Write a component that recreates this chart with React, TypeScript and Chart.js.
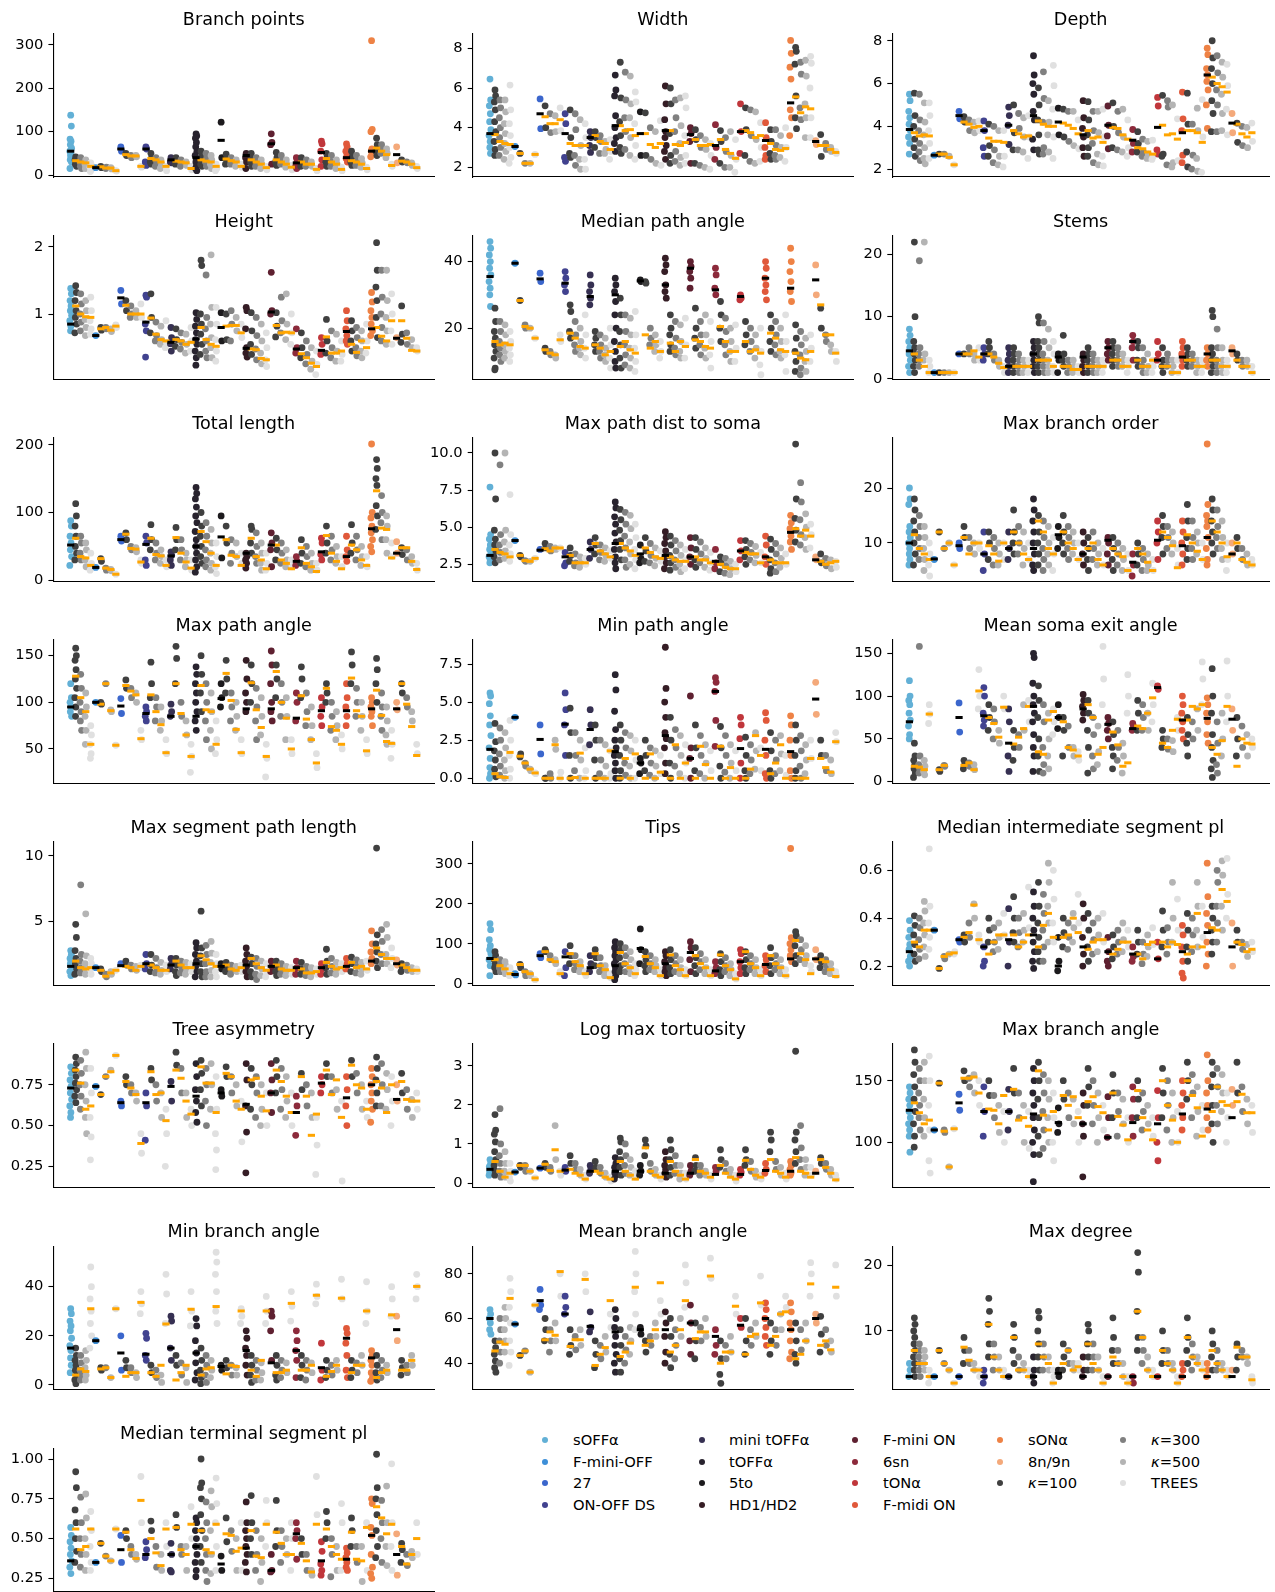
import React, { useEffect, useRef } from "react";
import { Chart, registerables } from "chart.js";
Chart.register(...registerables);

const cellTypes = ["sOFFα","F-mini-OFF","27","ON-OFF DS","mini tOFFα","tOFFα","5to","HD1/HD2","F-mini ON","6sn","tONα","F-midi ON","sONα","8n/9n"];
const typeColors = ["#62b0d6","#3d8fd8","#3b66cc","#41428f","#363052","#28232e","#1c1a1d","#351d25","#5e2030","#8c2a3b","#c0363b","#e0583a","#ee8245","#f4a97a"];
const modelNames = ["κ=100","κ=300","κ=500","TREES"];
const modelColors = ["#404040","#808080","#b4b4b4","#e0e0e0"];

// ---- Branch points
const bpTicks = ["0","100","200","300"];
const bpRange = [-4.6, 326.5];
const bpPts = [
[[138,113,83,78,70,62,55,50,45,40,35,30,15],[42,38,35,30,25,20],[40,35,30,25,20,15],[35,30,25,20,15],[28,22,18,12,8]],
[[17],[20,17],[15,18],[17,14],[10,9]],
[[65,55],[50,45],[45,40],[45,42],[20,18]],
[[65,60,30,22],[50,40,30,25],[40,30,20],[35,25,15],[20,10]],
[[40,35,30,28],[40,32,25],[35,28,20],[30,22],[20,12]],
[[95,90,85,75,65,55,45,38,30,22,15,10],[55,45,38,30,25,20],[50,40,30,20],[45,35,25,15],[25,15,10]],
[[122,40],[48,35,25],[40,30,25],[35,28,20],[25,18]],
[[50,45,40,30,15],[50,40,30,20],[40,30,20],[35,25,15],[20,12]],
[[95,75,70,25],[52,40,30,22],[45,35,25],[35,25,18],[22,12]],
[[40,30,20,15],[40,30,20],[35,25,20],[30,20],[15,10]],
[[78,72,55,35,20],[50,40,30,20],[45,30,20],[35,25,15],[18,10]],
[[72,65,55,45,38,30],[55,42,30,22],[45,32,22],[38,28,18],[18,12]],
[[310,105,100,60,55,48,42],[85,70,55,45],[70,60,50],[60,50,40],[25,20]],
[[65,28],[35,30],[30,28],[28,22],[20,15]]];
const bpMeans = [[55,33,30,28,20],[17,19,16,16,10],[60,47,44,44,20],[60,38,35,30,20],[35,32,30,28,15],[40,35,32,30,20],[80,37,33,30,20],[45,35,30,25,17],[72,35,30,25,18],[28,30,25,25,13],[52,38,30,25,13],[40,33,30,25,15],[55,62,55,47,22],[47,32,30,25,17]];

// ---- Width
const wdTicks = ["2","4","6","8"];
const wdRange = [1.51, 8.75];
const wdPts = [
[[6.45,5.4,5.1,4.7,4.3,3.9,3.6,3.3,3.0,2.7],[5.9,5.6,5.3,4.9,4.3,3.8,3.3,2.9,2.6],[5.4,5.0,4.5,4.0,3.5,3.0,2.6],[5.4,4.8,4.2,3.7,3.2,2.8,2.4],[6.15,4.9,4.2,3.6,3.0,2.5,2.2]],
[[3.05],[2.7],[2.2],[2.2],[2.65]],
[[5.45,3.95],[5.1,4.0],[4.7,3.75],[4.6,3.8],[5.0,3.85]],
[[4.7,4.2,2.5,2.3],[4.9,3.5,2.7,2.5],[4.7,3.9,2.6,2.1],[4.4,3.1,2.4,1.9],[4.2,3.5,2.4,1.9]],
[[3.8,3.5,3.1,2.75],[3.8,3.5,3.0],[3.6,3.3,2.7],[3.3,2.9,2.7],[3.4,2.8,2.4]],
[[6.65,5.9,5.6,4.6,4.0,3.5,3.2,2.8],[7.3,5.5,4.3,3.6,3.0,2.7],[6.8,5.4,4.5,3.8,2.9],[6.6,5.2,4.5,3.5,2.6],[5.8,5.3,4.2,3.1,2.4]],
[[4.8,2.6],[4.75,2.6],[4.0,2.4],[3.8,2.2],[4.35,2.1]],
[[6.1,5.2,4.4,3.8,3.5,3.1,2.8,2.4],[6.0,5.2,3.7,2.6,2.2],[5.4,4.5,3.8,2.8,2.3],[5.5,4.1,3.2,2.5,2.1],[5.6,5.0,3.6,2.6,2.2]],
[[4.0,3.7,3.3,2.2],[3.9,3.4,2.2],[3.6,3.0,2.1],[3.4,2.9,2.0],[3.2,2.6,1.9]],
[[4.15,3.0,2.4],[3.85,3.3,2.2],[3.5,2.8,2.0],[3.8,2.6,2.0],[3.4,2.4,1.75]],
[[5.2,3.8,2.7],[5.0,3.9,2.6],[4.9,3.6,2.3],[4.8,3.4,2.2],[4.25,3.0,2.3]],
[[4.25,3.5,3.0,2.6,2.4],[3.9,3.3,2.7,2.4],[3.9,3.1,2.6,2.4],[3.6,3.0,2.5],[4.0,3.0,2.3]],
[[8.4,7.75,7.05,6.45,4.9,4.5,3.6],[8.05,7.85,7.2,5.6,4.5,3.95],[7.3,6.7,5.0,4.4],[7.4,6.6,5.2,4.5,3.5],[7.6,7.25,6.0,4.5,3.5]],
[[3.35,3.15],[3.65,2.55],[3.2,2.9],[3.0,2.8],[2.8,2.7]]];
const wdMeans = [[3.7,3.65,3.3,3.2,3.15],[3.05,2.7,2.2,2.2,2.65],[4.7,4.55,4.2,4.2,4.4],[3.7,3.2,3.1,3.1,3.1],[3.5,3.6,3.3,3.2,2.9],[4.1,4.1,3.85,3.9,3.6],[3.7,3.7,3.15,3.0,3.2],[3.85,3.85,3.15,3.1,3.25],[3.65,3.4,3.1,3.1,3.15],[3.1,3.4,2.9,2.7,2.45],[3.8,3.85,3.75,3.5,3.6],[3.35,3.2,2.9,2.85,2.95],[5.25,5.55,4.75,5.05,4.95],[3.3,3.1,3.1,2.9,2.75]];

// ---- Depth
const dpTicks = ["2","4","6","8"];
const dpRange = [1.63, 8.34];
const dpPts = [
[[5.5,5.2,4.7,4.4,4.1,3.8,3.5,3.2,2.7],[5.55,4.5,4.0,3.4,3.0,2.6],[5.5,4.3,3.8,3.2,2.8,2.4],[5.1,4.2,3.6,3.0,2.5,2.25],[5.1,4.5,3.8,3.2,2.5]],
[[2.65],[2.7],[2.7],[2.6],[2.2]],
[[4.7,4.35],[4.45,4.2],[4.3,3.8],[4.2,3.7],[4.25,3.8]],
[[4.25,3.8,3.0,2.6],[4.1,3.1,2.6],[4.0,2.9,2.3],[3.8,2.6,2.2],[3.8,2.6,2.1]],
[[4.9,4.5,4.05,3.15],[5.0,3.7,2.9],[4.6,3.9,2.9],[4.4,3.5,2.8],[4.5,3.5,2.5]],
[[7.3,6.4,6.0,5.5,4.7,4.3,3.4,2.9],[5.8,5.0,4.3,3.6,2.9,2.7],[6.55,5.3,4.2,3.0,2.7],[5.2,4.2,3.6,2.8],[6.85,5.9,4.8,3.5,2.5]],
[[4.85,3.6],[4.8,3.5],[4.7,3.3],[4.7,3.1],[4.3,2.95]],
[[5.2,4.4,3.9,3.5,3.0,2.6],[5.15,4.3,3.6,3.0,2.6],[4.7,3.8,3.2,2.3],[4.7,3.7,2.7,2.2],[4.8,3.5,2.6,2.15]],
[[4.95,4.05,3.55,2.95],[5.1,4.0,3.0],[4.7,3.7,2.9],[4.8,3.5,2.8],[4.3,3.0,2.6]],
[[3.85,3.2,2.8],[3.75,3.2,2.8],[3.4,2.8,2.6],[3.3,2.7,2.5],[3.35,2.6,2.45]],
[[5.35,4.95,2.9,2.7],[5.45,2.7,2.6],[5.2,4.9,2.2],[5.0,2.3,2.1],[4.35,2.4]],
[[5.6,4.35,3.8,2.65,2.3],[5.55,4.1,2.8,2.1],[4.1,2.65,2.0],[4.85,3.8,2.5,1.9],[5.25,3.5,1.85]],
[[7.65,7.35,6.7,6.4,6.1,5.7,5.0,3.9],[8.0,7.2,6.7,6.0,5.2,4.6,3.75],[7.3,6.5,5.7,5.0,3.75],[7.0,6.3,5.5,4.6,3.8],[6.9,5.9,4.8,3.6]],
[[4.6,3.7],[4.15,3.25],[4.0,3.1],[3.95,3.0],[4.15,3.3]]];
const dpMeans = [[3.85,3.7,3.55,3.6,3.55],[2.65,2.7,2.7,2.55,2.2],[4.5,4.2,4.1,3.95,4.0],[3.8,3.45,3.3,3.3,3.25],[4.05,3.8,3.65,3.5,3.55],[4.5,4.25,4.1,4.0,4.0],[4.2,4.15,4.05,3.9,3.65],[3.6,3.8,3.45,3.5,3.25],[4.05,3.95,3.9,3.6,3.4],[3.35,3.0,2.95,2.8,2.7],[3.95,4.05,3.6,3.65,3.4],[3.7,3.8,3.8,3.7,3.25],[6.4,6.3,6.0,5.85,5.6],[4.15,4.1,3.65,3.5,3.7]];

// ---- Height
const htTicks = ["1","2"];
const htRange = [0.033, 2.165];
const htPts = [
[[1.38,1.3,1.2,1.12,1.05,0.98,0.9,0.82,0.75],[1.42,1.32,1.2,1.05,0.95,0.85,0.72],[1.3,1.15,1.0,0.88,0.75],[1.2,1.05,0.92,0.8,0.68],[1.25,1.05,0.9,0.78,0.7]],
[[0.68],[0.8,0.76],[0.8,0.78],[0.78,0.74],[0.84,0.8]],
[[1.35,1.15],[1.2,1.05],[1.12,1.0,0.95],[1.05,0.95],[1.15,0.95]],
[[1.28,1.25,0.85,0.75,0.36],[1.3,0.95,0.72],[0.88,0.68,0.6],[0.82,0.62,0.55],[0.9,0.58,0.5]],
[[0.8,0.65,0.56,0.45],[0.78,0.62,0.52],[0.72,0.58,0.48],[0.7,0.55,0.42],[0.8,0.6,0.45]],
[[1.02,0.92,0.82,0.72,0.62,0.55,0.45,0.35,0.24],[1.8,1.72,1.0,0.85,0.7,0.55,0.4],[1.58,0.95,0.78,0.6,0.45,0.35],[1.88,1.1,0.85,0.65,0.5,0.35],[1.1,0.85,0.62,0.45,0.3]],
[[1.02,0.6],[1.0,0.62],[1.05,0.85,0.6],[0.95,0.75],[0.85,0.65]],
[[1.1,1.05,0.78,0.5,0.42,0.36],[1.02,0.75,0.55,0.4],[0.95,0.68,0.48,0.32],[0.85,0.6,0.42,0.26],[0.72,0.5,0.32,0.22]],
[[1.62,1.05,1.0],[1.02,0.82,0.66],[1.25,0.9,0.72],[1.3,0.85,0.62],[1.0,0.72,0.55]],
[[0.78,0.5,0.42],[0.72,0.5,0.35],[0.6,0.4,0.26],[0.5,0.3,0.18],[0.45,0.25,0.1]],
[[0.65,0.55,0.4],[0.92,0.6,0.42],[0.75,0.5,0.35],[0.7,0.45,0.3],[0.6,0.4,0.3]],
[[1.05,0.9,0.78,0.68,0.6,0.55],[0.9,0.75,0.6,0.45],[0.8,0.65,0.5,0.38],[0.75,0.6,0.45,0.35],[0.85,0.6,0.42]],
[[1.32,1.18,1.05,0.95,0.85,0.75,0.68],[2.06,1.65,1.4,1.2,0.95,0.65],[1.65,1.25,1.0,0.8,0.6],[1.65,1.2,0.95,0.75,0.55],[1.3,1.0,0.75,0.55]],
[[0.65],[1.12,0.7,0.58],[0.72,0.55],[0.62,0.5],[0.5,0.45]]];
const htMeans = [[0.85,1.12,1.0,0.96,0.95],[0.68,0.78,0.8,0.76,0.82],[1.24,1.13,1.0,1.0,1.0],[0.88,0.94,0.7,0.62,0.6],[0.58,0.62,0.6,0.55,0.58],[0.63,0.8,0.62,0.55,0.52],[0.8,0.82,0.83,0.83,0.72],[0.49,0.48,0.47,0.34,0.32],[1.03,0.83,0.72,0.73,0.72],[0.48,0.41,0.35,0.27,0.22],[0.46,0.66,0.42,0.42,0.45],[0.74,0.55,0.43,0.6,0.5],[0.78,0.8,0.67,0.6,0.9],[0.64,0.9,0.64,0.46,0.45]];

// ---- Median path angle
const mpaTicks = ["20","40"];
const mpaRange = [4.7, 47.8];
const mpaPts = [
[[46,44,42,40,38,36,34,32,30,26.5],[26,22,19,17,15,13,11,8,7.5],[22,19,16,14,12,10],[21,18,15,13,11],[19,16,14,12,10]],
[[39.5],[28.3],[21,20],[20],[17]],
[[36.5,34],[14,13],[13,12],[12,11],[18,16]],
[[37,35,33,31],[27,25,19,17],[22,18,15,13],[20,16,14,12],[24,18,14,11]],
[[36,33,31,29,27],[19,17,15,13],[18,15,13,11],[17,14,12,10],[20,15,11,8]],
[[35,33,31,28,24,20,16,13,10,8],[29,24,19,15,11,8],[24,19,15,12,9],[23,18,14,11,8],[25,18,14,10,7]],
[[34.5,34],[34,33.5],[20,17,15],[18,15,13],[16,13,11]],
[[41,39,37,33,31,29],[24,20,18,15,13],[22,17,14,12],[21,16,13,11],[23,15,11]],
[[40,38.5,37,35,32],[26,20,17,14],[22,18,15,12],[24,18,14,11],[22,16,12,8]],
[[38,36,32,30],[28,24,20,16],[23,19,15,12],[20,16,13,10],[21,14,10]],
[[30,29,28.5],[22,18,15],[20,16,13],[18,14,11],[20,13,9,6]],
[[40,38,35,33,31,28.5],[24,20,16,13],[22,18,15,12],[20,16,13,11],[24,16,12,7]],
[[44,40,37,34,31,28],[21,17,13,10,7],[19,15,12,8,6],[17,13,10,7],[18,14,10]],
[[39,30],[26,20],[18,16],[15,13],[13,10]]];
const mpaMeans = [[35.5,16,15,15.5,15],[39.5,28.3,20.5,20,17],[34.8,13.5,12.5,12,16.5],[33.5,18.5,17,14.5,14],[29.5,15,14,12,13],[30,14.5,16,13.5,12.5],[34.2,18,14,16,13],[33,15.5,13,16,14.5],[38,16.5,16,14.5,14],[31.5,20.5,16,13,13],[29.5,16,13,13.5,12.5],[35,18.5,17,13.5,13],[32,12.5,11,10.5,13],[34.5,27,18,18,12.5]];

// ---- Stems
const stTicks = ["0","10","20"];
const stRange = [-0.05, 23.05];
const stPts = [
[[8,7,6,5,4,3,2,1],[22,10,6,5,4,3,2,1],[19,5,4,3,2],[22,4,3],[3,2,1]],
[[1],[1],[1],[1],[1]],
[[4],[4],[5,4],[4,3],[5,3]],
[[5,4,3],[6,5,4],[4,3],[3,2],[2,1]],
[[5,4,3,2,1],[5,4,3,2,1],[4,3,2,1],[3,2,1],[3,2,1]],
[[6,5,4,3,2,1],[10,9,6,5,4,3,2,1],[9,6,4,3,2,1],[8,5,3,2,1],[6,4,2,1]],
[[4,3,1],[7,4,3,2],[3,2,1],[3,2,1],[2,1]],
[[4,3,2,1],[5,4,3,2,1],[4,3,2,1],[3,2,1],[3,2,1]],
[[6,5,4,3],[6,5,4,3,2],[5,4,3,2],[4,3,2],[3,2,1]],
[[7,6,5,3],[6,5,3,2],[5,3,2,1],[4,2,1],[3,2,1]],
[[6,4,3],[5,3,2,1],[4,3,2],[3,2,1],[3,1]],
[[6,5,4,3,2],[5,4,3,2],[4,3,2],[3,2,1],[3,2,1]],
[[5,4,3,2],[11,10,5,4,3,2,1],[8,5,3,2,1],[5,3,2,1],[3,2,1]],
[[5,4],[4,3],[3,2],[3,2],[2,1]]];
const stMeans = [[4.5,4,3,2,1],[1,1,1,1,1],[4,4,4,4.5,3.5],[4,4,3.5,2.5,1.8],[2,2,2,2,2],[4,3,3,3,2],[3.5,2,2,1.5,1.5],[3.5,2,2,2,2],[5,3,3,2,2],[6,3,2,2,3],[3,2,2,1,1],[3.5,3,3,2,2],[4,3,3,2,2],[4.5,3,2,2,1]];

// ---- Total length
const tlTicks = ["0","100","200"];
const tlRange = [-1.3, 210.3];
const tlPts = [
[[88,80,65,55,45,35,22],[113,95,80,65,50,40,30],[65,55,40,30],[55,45,30,20],[40,25,15]],
[[19],[32,28],[18,15],[16,14],[9]],
[[65,58],[70,60],[50,45],[48,42],[30,25]],
[[65,55,30,22],[82,60,45],[55,40,30],[45,35,25],[30,20]],
[[42,37,30,22],[78,60,45],[60,45,30],[40,30,20],[30,15]],
[[137,128,120,108,95,85,72,60,50,40,30,20,12],[100,80,65,50,35,25],[85,65,45,30,20],[75,55,40,25,15],[55,35,20,10]],
[[95,33],[80,55],[60,40,25],[55,35],[40,25]],
[[40,35,30,25,18],[80,75,55,40],[70,50,35,25],[55,40,25,15],[40,25,15]],
[[70,55,45,20],[62,45,30],[55,40,25],[45,30,20],[30,20]],
[[35,28,22],[60,40,25],[50,35,20],[40,25,15],[25,15]],
[[62,55,38,30],[80,55,40],[65,45,30],[50,35,25],[35,20]],
[[65,45,35,28],[82,55,40],[65,45,30],[50,35,22],[35,20]],
[[201,100,92,80,70,60,50,42],[178,165,150,140,110,95,75],[125,100,85,60],[95,80,60,40],[55,35]],
[[57,40],[48,38],[45,30],[35,25],[25,15]]];
const tlMeans = [[52,62,35,33,22],[19,32,18,16,9],[60,68,47,46,27],[53,62,38,36,22],[36,63,40,27,18],[50,72,57,40,22],[64,60,37,35,22],[40,62,35,30,17],[52,52,30,25,17],[28,48,25,20,13],[42,66,40,28,17],[35,52,45,30,22],[76,132,77,75,33],[40,48,48,28,16]];

// ---- Max path dist to soma
const mpdTicks = ["2.5","5.0","7.5","10.0"];
const mpdRange = [1.36, 11.03];
const mpdPts = [
[[7.7,4.5,4.2,3.8,3.5,3.2,3.0,2.8,2.6],[10.0,6.9,4.8,4.2,3.8,3.4,3.0,2.6],[9.2,4.5,3.8,3.3,2.8],[10.0,4.8,4.0,3.4,2.9],[7.2,4.5,3.8,3.2,2.7]],
[[4.1],[3.1,3.0],[2.75,2.7],[2.7],[2.9]],
[[3.5],[3.9,3.6],[3.7,3.4],[3.6,3.5],[3.6]],
[[3.3,2.6,2.4],[3.6,3.1,2.7],[3.2,2.6,2.4],[3.0,2.6,2.3],[2.9,2.5]],
[[4.0,3.5,2.9],[4.3,3.8,3.2],[3.8,3.3,2.8],[3.6,3.1,2.7],[3.4,2.9]],
[[6.7,6.3,5.7,5.2,4.6,4.0,3.5,3.0,2.6,2.2],[6.2,5.5,4.8,4.1,3.5,2.8],[6.0,5.2,4.4,3.6,2.8,2.3],[5.8,4.9,4.0,3.2,2.5],[5.2,4.3,3.5,2.8,2.2]],
[[3.8,2.9,2.6],[4.3,3.4,2.7],[3.9,3.1,2.6],[3.6,2.9,2.4],[3.4,2.7]],
[[4.7,4.3,3.9,3.4,3.0,2.6,2.2],[4.4,3.8,3.1,2.6,2.1],[4.1,3.4,2.8,2.3],[3.8,3.1,2.5,2.0],[3.5,2.8,2.2]],
[[4.3,3.6,3.0,2.5],[4.3,3.5,2.8,2.3],[4.0,3.2,2.6],[3.6,2.9,2.3],[3.3,2.6,2.1]],
[[3.5,2.6,2.2],[3.0,2.6,2.0],[2.9,2.4,1.9],[2.7,2.2,1.8],[2.5,2.0]],
[[4.1,3.4,2.8],[4.1,3.5,3.0,2.5],[3.9,3.3,2.8],[3.7,3.1,2.6],[3.3,2.6]],
[[4.4,3.8,3.0,2.5],[4.2,3.5,2.8,2.2,1.9],[3.9,3.2,2.6,2.0],[3.6,2.9,2.3],[3.2,2.5]],
[[5.8,5.3,4.9,4.4,4.0,3.5],[10.6,6.9,5.6,4.8,4.0],[8.0,6.7,5.5,4.5,3.8],[5.9,5.0,4.3,3.5],[5.2,4.5,3.6]],
[[3.0,2.8],[3.2,2.6],[2.9,2.4],[2.8,2.2],[2.7,2.3]]];
const mpdMeans = [[3.1,3.5,3.3,3.2,3.0],[4.1,3.1,2.75,2.7,2.9],[3.45,3.55,3.4,3.6,3.6],[3.0,3.1,2.6,2.6,2.6],[3.5,3.9,3.4,3.2,3.0],[3.9,3.9,3.6,3.4,3.1],[3.2,3.6,3.3,3.0,2.9],[3.1,3.0,2.8,2.7,2.7],[3.0,3.0,2.8,2.8,2.6],[2.7,2.5,2.3,2.2,2.2],[3.4,3.3,3.2,3.2,2.6],[3.0,2.8,2.6,2.6,2.6],[4.65,4.9,4.4,4.8,4.4],[2.8,2.7,2.5,2.6,2.7]];

// ---- Max branch order
const mboTicks = ["10","20"];
const mboRange = [3.05, 29.15];
const mboPts = [
[[20,18,17,13,12,11,10,9,8,7,6],[18,16,14,12,10,8,6],[15,13,11,9,7],[13,11,9,7,5],[10,8,6,4]],
[[7],[12],[9],[10],[6]],
[[10,9],[13,11],[11,9],[10,8],[10,9]],
[[12,8,5],[12,10,7],[11,9,6],[10,8,6],[10,7]],
[[12,9,7],[16,12,10,8],[13,10,8],[12,9,6],[10,7]],
[[18,16,14,12,10,8,6,5],[15,12,10,8,6],[14,11,9,7,5],[13,10,8,6],[11,8,5]],
[[13,11,9],[15,12,10,8],[13,11,9,7],[12,10,8],[10,7]],
[[12,10,8,6],[11,9,7,5],[12,9,7],[10,8,6],[9,6]],
[[11,10,8,6],[11,9,7,5],[10,8,6],[9,7,5],[8,5]],
[[8,6,4],[10,8,6],[9,7,5],[8,6,5],[7,5]],
[[14,12,10,7],[15,13,11,8],[13,11,9],[12,10,8],[9,6]],
[[14,12,10,8,6],[17,14,11,9,7],[14,11,9,7],[12,10,8],[10,7]],
[[28,17,15,14,13,11,9,7,6],[18,16,14,12,10,8],[16,13,11,9],[14,11,9,7],[10,7,5]],
[[10,8],[11,9],[9,7],[8,6],[7,6]]];
const mboMeans = [[10,11.5,9,8,7],[7.1,12,9,10,6],[9.5,11,8,10,10],[8,9.5,8,6.7,10],[9,12,10,8,7],[9,14,12,9,8],[11.5,12,10,9,7],[8,9,10,7,6],[10.5,9,8,7.5,5],[6.5,9,8,6.5,5],[10.5,12,11,9.5,5.5],[9.5,11.5,10,8.5,7],[11,14,12,10,7.5],[8,10,7,6.5,6]];

// ---- Max path angle
const mxpaTicks = ["50","100","150"];
const mxpaRange = [13.2, 167];
const mxpaPts = [
[[120,105,100,95,90,85],[158,150,145,135,125,115,105,95,85],[130,115,100,90,80,70],[110,95,85,70,55],[75,65,55,45,40]],
[[100],[100,98],[120],[92,90],[54]],
[[104,88],[124,115],[115,105],[110,100],[70,60]],
[[95,90,85,80],[143,120,105],[105,95,80],[95,80,70],[60,45]],
[[98,90,85],[160,147,120],[100,85],[80,65],[55,42,25]],
[[138,130,120,110,100,90,80,70],[150,130,110,90],[120,100,80,60],[110,90,70,50],[80,60,45]],
[[120,105,95],[145,125,110],[110,95,80],[100,85,70],[60,45]],
[[145,125,110,100,90],[140,120,100],[115,95,80,60],[105,85,65],[55,40,20]],
[[155,140,120,100,90,80],[140,125,105],[120,100,85],[105,85,60],[60,45]],
[[110,100,80],[138,125,105],[110,90,75],[95,75,60],[45,30]],
[[105,95,85,75],[120,110,100],[100,85,70],[90,75,60],[65,50]],
[[120,105,95,85,75],[154,140,120],[115,100,85],[100,85,70],[60,45]],
[[105,100,95,90,85,75],[147,135,120,100],[110,95,85,70],[95,80,65,55],[70,55,40]],
[[100,92],[120,110],[105,95],[90,80],[55,45]]];
const mxpaMeans = [[95,128,105,90,55],[100,98,120,91,54],[96,118,112,108,61],[88,108,90,76,46],[85,120,88,65,42],[85,118,92,90,55],[104,131,102,71,46],[93,121,92,73,42],[93,133,100,83,50],[83,107,82,60,35],[91,115,74,70,55],[91,126,91,85,48],[93,113,86,58,56],[93,120,98,74,43]];

// ---- Min path angle
const mnpaTicks = ["0.0","2.5","5.0","7.5"];
const mnpaRange = [-0.33, 9.09];
const mnpaPts = [
[[5.6,5.4,4.9,4.1,3.5,2.8,2.0,1.3,0.7,0.3,0.0],[3.6,2.4,1.8,1.2,0.6,0.1],[3.3,2.5,1.6,0.8,0.2],[3.0,2.0,1.2,0.5,0.0],[3.8,2.5,1.5,0.6,0.0]],
[[4.0],[1.4,1.6],[1.0,0.8],[0.6,0.5],[0.35,0.3]],
[[3.5,1.6],[0.0,0.0],[0.3,0.0],[2.5,1.9],[0.0,0.4]],
[[5.6,4.5,3.5,1.5],[4.6,3.0,1.5,0.0],[3.0,1.5,0.5],[2.5,1.2,0.0],[2.0,0.5,0.0]],
[[4.5,3.5,2.2],[3.5,2.5,1.2,0.0],[2.5,1.2,0.3],[2.2,0.8,0.0],[1.8,0.3,0.0]],
[[6.8,5.8,4.4,3.2,2.5,2.0,1.5,1.0,0.5,0.0],[3.5,2.5,1.5,0.5,0.0],[3.0,2.0,1.0,0.2],[2.8,1.8,0.8,0.0],[2.5,1.2,0.0]],
[[1.3,1.0,0.3],[2.5,1.5,0.5],[2.0,1.0,0.2],[1.8,0.8,0.0],[1.5,0.3]],
[[8.6,5.9,5.0,4.0,3.0,2.6,2.0,1.0,0.3],[4.0,2.5,1.0,0.0],[3.2,2.0,0.8],[2.8,1.5,0.3],[2.2,1.0,0.0]],
[[5.4,2.0,1.3,0.0],[3.5,2.0,0.5],[2.8,1.5,0.3],[2.2,1.0,0.0],[1.8,0.5]],
[[6.6,6.3,5.7,3.8,2.1],[3.4,2.0,0.8,0.0],[2.8,1.5,0.4],[2.2,1.0,0.0],[1.8,0.5]],
[[4.0,3.5,2.6,1.0,0.0],[2.7,1.5,0.5,0.0],[2.2,1.2,0.3],[3.0,1.8,0.6],[2.0,0.5]],
[[4.3,3.8,2.5,1.5,0.3,0.0],[3.0,1.8,0.5,0.0],[2.5,1.2,0.3],[2.8,1.6,0.5],[1.5,0.2]],
[[4.1,3.5,2.5,1.5,0.5,0.0],[3.5,2.5,1.5,0.5,0.0],[2.8,1.8,0.8,0.0],[2.2,1.2,0.3],[2.5,1.3]],
[[6.3,4.2],[2.5,1.5],[1.5,0.5],[1.2,0.3],[3.0,2.4]]];
const mnpaMeans = [[1.9,0.3,0.1,0.05,1.7],[4.0,1.45,1.0,0.6,0.35],[2.55,0.0,0.0,2.2,0.0],[3.55,0.0,0.05,1.65,0.0],[3.2,0.0,0.0,0.0,1.8],[1.75,0.0,1.3,0.0,1.6],[1.0,0.0,1.6,0.0,0.4],[2.8,0.0,2.2,0.0,1.0],[1.3,0.0,2.1,0.9,0.0],[5.7,2.1,0.0,0.7,0.0],[1.95,0.0,0.6,2.8,1.5],[1.9,0.3,1.0,2.2,0.0],[1.75,0.0,0.0,0.0,1.3],[5.2,1.3,0.7,0.4,2.4]];

// ---- Mean soma exit angle
const mseTicks = ["0","50","100","150"];
const mseRange = [-1.9, 165.8];
const msePts = [
[[118,100,95,90,80,72,65,55,50],[45,30,25,20,15,10,5],[158,30,20,15,10],[25,18,12,8],[90,79,68]],
[[],[14,12],[19,18],[],[]],
[[92,58],[25,20,15],[22,18],[20,14],[131,100,85]],
[[110,100,80,72,65],[90,75,60],[85,70,50],[60,45],[100,85]],
[[85,70,30,12],[60,40,25],[55,40],[90,60],[95,70]],
[[150,145,115,100,90,80,70,55,40,30,12],[112,95,75,50,30,12],[90,70,40,20,10],[80,50,30,15],[85,70,55]],
[[90,75,62],[75,60,30],[65,40],[40,30],[35,25]],
[[102,95,88,80,72],[95,80,60,40,10],[75,55,30,15],[65,35,20],[158,120,90]],
[[75,68,60,50],[70,55,40,30,15],[60,40,25],[45,30,10],[125,100,80]],
[[68,65,60],[95,80,60],[90,75,60],[80,60],[115,90,70]],
[[112,108],[60,50,40],[50,38],[48,35],[75,60]],
[[100,90,80,70,60,50],[75,55,45,30],[70,50],[85,60],[140,120,90]],
[[98,90,80,70,55,45],[132,100,80,55,40,25,15,5],[70,45,20,10],[80,50,30],[141,100,70]],
[[85,60],[75,50,30],[65,40],[55,30],[50,40]]];
const mseMeans = [[70,18,17,14,79],[null,14,19,null,null],[75,19,22,14,106],[77,75,68,52,87],[45,44,52,62,88],[88,35,32,72,82],[75,70,40,37,30],[85,90,75,32,40],[67,58,43,18,22],[62,65,62,80,98],[110,45,40,60,73],[72,72,88,85,90],[74,40,32,48,88],[73,18,50,45,44]];

// ---- Max segment path length
const mspTicks = ["5","10"];
const mspRange = [0.15, 11.07];
const mspPts = [
[[2.8,2.5,2.2,2.0,1.8,1.5,1.2,0.9],[4.8,3.8,2.8,2.2,1.8,1.4,1.0],[7.8,2.5,2.0,1.5,1.1],[5.6,2.4,1.8,1.4,1.0],[2.2,1.8,1.4,1.0]],
[[1.5],[1.4,1.2],[1.0,0.8],[1.2,1.0],[1.3]],
[[1.8],[2.0,1.7],[1.7,1.4],[1.6,1.3],[1.7,1.5]],
[[2.5,1.8,1.4],[2.5,1.7,1.2],[2.2,1.5,1.1],[1.9,1.3,1.0],[1.7,1.2]],
[[2.2,1.8,1.4],[2.2,1.7,1.2,0.9],[2.0,1.5,1.1],[1.9,1.4,1.0],[1.8,1.2]],
[[3.4,3.0,2.5,2.0,1.6,1.2,0.8],[5.8,3.0,2.4,1.8,1.2,0.8],[3.2,2.5,1.8,1.2,0.8],[3.5,2.6,1.9,1.3,0.8],[2.5,1.8,1.2,0.8]],
[[1.8,1.4],[1.9,1.5,1.2],[1.7,1.3,1.0],[1.6,1.2],[1.7,1.2]],
[[3.0,2.5,2.0,1.6,1.2,0.8],[2.3,1.8,1.2,0.8],[2.2,1.6,1.0,0.6],[2.0,1.4,0.9],[1.8,1.2,0.8]],
[[2.0,1.6,1.2],[2.0,1.6,1.2,0.9],[1.8,1.4,1.0],[1.6,1.2,0.9],[1.5,1.0]],
[[2.0,1.5,1.0],[1.9,1.4,1.0],[1.6,1.2,0.9],[1.5,1.1,0.8],[1.4,1.0]],
[[1.8,1.4,1.0],[2.9,2.0,1.5,1.0],[2.2,1.6,1.1],[1.9,1.4,1.0],[1.8,1.2]],
[[2.2,1.8,1.4],[2.3,1.8,1.2],[2.1,1.6,1.1],[1.9,1.4,1.0],[2.0,1.3]],
[[4.3,3.3,2.7,2.2,1.8],[10.6,4.0,3.3,2.7,2.0,1.5],[4.4,3.5,2.5,1.8],[4.8,3.8,2.5,1.8],[3.0,2.2,1.5]],
[[2.1,1.7],[1.8,1.5,1.2],[1.7,1.3],[1.5,1.2],[1.4,1.2]]];
const mspMeans = [[1.6,2.0,1.5,1.4,1.5],[1.5,1.3,0.85,1.1,1.3],[1.65,1.6,1.5,1.3,1.6],[1.8,1.7,1.5,1.3,1.3],[1.7,2.0,1.7,1.5,1.5],[1.8,2.4,2.1,1.8,1.6],[1.6,1.7,1.4,1.3,1.5],[1.7,2.2,1.8,1.5,1.3],[1.6,1.7,1.4,1.3,1.3],[1.5,1.4,1.1,1.1,1.2],[1.5,1.9,1.6,1.4,1.5],[1.6,1.9,1.5,1.6,1.4],[2.0,3.0,2.5,2.2,2.2],[1.8,1.7,1.5,1.3,1.3]];

// ---- Tips
const tpTicks = ["0","100","200","300"];
const tpRange = [-4.3, 354.5];
const tpPts = [
[[150,135,110,95,85,75,60,45,20],[80,70,60,50,40,30],[60,50,40,30],[55,45,35,25],[40,30,20]],
[[25,22],[48,40],[30,20],[25,20],[10]],
[[75,65],[85,80],[70,60],[60,50],[30,25]],
[[80,40,20],[95,70,50],[70,50,35],[55,40,30],[30,20]],
[[70,50,30],[85,65,45],[65,45,30],[45,30,20],[25,15]],
[[105,100,90,80,70,60,50,40,30,20,10],[100,85,65,45,30],[90,70,50,30],[80,60,40,25],[50,35,20]],
[[137,85,50],[80,60,45,30],[70,50,35],[60,45,30],[35,20]],
[[80,70,55,40,30,20],[85,60,40,25],[70,50,30],[60,40,25],[35,20]],
[[105,90,60,30],[90,65,45,25],[75,55,35],[60,40,25],[35,20]],
[[55,40,25],[75,55,35,20],[65,45,30],[50,35,20],[25,12]],
[[85,75,55,40,25],[80,60,40,25],[70,50,35],[60,40,25],[35,20]],
[[70,60,45,30],[90,65,45,25],[70,50,35],[60,40,25],[35,20]],
[[338,115,100,85,70,55],[130,120,95,70,50],[110,85,60],[95,70,50],[45,30]],
[[85,60],[70,55,40],[60,45,30],[50,35,25],[30,20]]];
const tpMeans = [[63,60,45,37,25],[23,48,30,25,10],[70,80,60,55,25],[67,75,55,45,25],[40,75,45,35,15],[45,78,50,40,25],[88,68,50,40,20],[50,72,45,35,20],[78,70,50,40,20],[32,72,45,35,12],[55,80,50,40,20],[48,70,50,40,20],[62,108,75,60,25],[62,60,55,35,18]];

// ---- Median intermediate segment pl
const misTicks = ["0.2","0.4","0.6"];
const misRange = [0.119, 0.719];
const misPts = [
[[0.39,0.35,0.32,0.29,0.27,0.24,0.22,0.2],[0.41,0.37,0.33,0.29,0.25,0.22],[0.4,0.36,0.31,0.27,0.23],[0.47,0.43,0.38,0.33,0.28,0.24],[0.69,0.45,0.38,0.32,0.27]],
[[0.35],[0.19],[0.24,0.23],[0.25],[0.25,0.26]],
[[0.31,0.3],[0.33,0.3],[0.38,0.32],[0.46,0.4],[0.33,0.3]],
[[0.28,0.22,0.2],[0.4,0.35,0.3],[0.36,0.3,0.26],[0.38,0.32,0.27],[0.42,0.33]],
[[0.44,0.3,0.2],[0.49,0.4,0.34,0.3],[0.4,0.34,0.28],[0.42,0.35,0.3],[0.53,0.36]],
[[0.51,0.45,0.4,0.35,0.3,0.26,0.22,0.19],[0.55,0.45,0.38,0.32,0.26,0.22],[0.5,0.42,0.35,0.28,0.22],[0.63,0.55,0.45,0.38,0.3],[0.6,0.48,0.38,0.3]],
[[0.32,0.22,0.18],[0.4,0.34,0.28],[0.38,0.32,0.27],[0.42,0.36,0.3],[0.5,0.38]],
[[0.46,0.4,0.32,0.25,0.2],[0.42,0.35,0.28,0.22],[0.38,0.31,0.25],[0.4,0.33,0.26],[0.42,0.3]],
[[0.32,0.26,0.22,0.2],[0.33,0.28,0.23],[0.35,0.3,0.25],[0.38,0.31,0.26],[0.35,0.28]],
[[0.28,0.24,0.22],[0.35,0.3,0.25],[0.3,0.25,0.21],[0.33,0.28,0.24],[0.36,0.29]],
[[0.3,0.23],[0.43,0.35,0.28],[0.36,0.3,0.25],[0.55,0.4,0.3],[0.48,0.35]],
[[0.37,0.33,0.28,0.22,0.17,0.15],[0.42,0.35,0.28,0.22],[0.4,0.33,0.26],[0.55,0.45,0.35,0.28],[0.45,0.32]],
[[0.63,0.49,0.42,0.37,0.3,0.25,0.2],[0.45,0.4,0.35,0.3,0.25],[0.6,0.55,0.45,0.38,0.3],[0.64,0.58,0.45,0.35],[0.65,0.5,0.4]],
[[0.38,0.2],[0.35,0.3],[0.3,0.27],[0.29,0.24],[0.3,0.26]]];
const misMeans = [[0.26,0.3,0.28,0.35,0.35],[0.35,0.19,0.24,0.25,0.255],[0.31,0.32,0.34,0.455,0.31],[0.28,0.25,0.3,0.33,0.33],[0.31,0.33,0.28,0.3,0.33],[0.33,0.28,0.37,0.42,0.32],[0.2,0.32,0.33,0.4,0.34],[0.28,0.27,0.3,0.31,0.31],[0.26,0.25,0.27,0.3,0.3],[0.25,0.25,0.23,0.29,0.3],[0.23,0.3,0.28,0.3,0.29],[0.26,0.25,0.28,0.42,0.28],[0.34,0.36,0.35,0.52,0.47],[0.28,0.3,0.29,0.26,0.27]];

// ---- Tree asymmetry
const taTicks = ["0.25","0.50","0.75"];
const taRange = [0.12, 1.0];
const taPts = [
[[0.86,0.82,0.78,0.74,0.7,0.66,0.62,0.58,0.55],[0.92,0.88,0.84,0.8,0.76,0.72,0.68,0.64],[0.9,0.82,0.75,0.68,0.6],[0.95,0.85,0.75,0.65,0.55,0.45],[0.85,0.7,0.55,0.43,0.29]],
[[0.74],[0.69],[0.8],[0.84],[0.93]],
[[0.65,0.62],[0.8,0.75],[0.75,0.7],[0.7,0.65],[0.45,0.33]],
[[0.7,0.62,0.41],[0.85,0.78],[0.75,0.65],[0.7,0.55],[0.6,0.45,0.25]],
[[0.77,0.65],[0.95,0.87],[0.85,0.7],[0.7,0.55],[0.6,0.5]],
[[0.88,0.8,0.72,0.65,0.58,0.52],[0.9,0.82,0.72,0.62],[0.85,0.75,0.65,0.5],[0.88,0.75,0.6],[0.8,0.6,0.45,0.35,0.23]],
[[0.72,0.68],[0.86,0.8],[0.8,0.7],[0.75,0.62],[0.65,0.4]],
[[0.88,0.78,0.62,0.46,0.21],[0.85,0.75,0.6],[0.8,0.7,0.55],[0.75,0.6,0.5],[0.7,0.5]],
[[0.88,0.78,0.7,0.58],[0.9,0.8,0.7],[0.85,0.72,0.6],[0.8,0.65,0.55],[0.7,0.5]],
[[0.68,0.62,0.44],[0.82,0.72],[0.75,0.62],[0.7,0.55],[0.55,0.38,0.2]],
[[0.8,0.75,0.7],[0.88,0.8],[0.8,0.7],[0.72,0.6],[0.65,0.16]],
[[0.8,0.72,0.62,0.5],[0.9,0.8],[0.82,0.7],[0.75,0.6],[0.65,0.55]],
[[0.85,0.8,0.75,0.7,0.65,0.6,0.52],[0.92,0.85,0.78,0.7,0.62],[0.88,0.75,0.62],[0.82,0.72,0.6],[0.8,0.65,0.5]],
[[0.75,0.65],[0.82,0.7],[0.72,0.6],[0.66,0.55],[0.7,0.6]]];
const taMeans = [[0.73,0.84,0.76,0.6,0.62],[0.74,0.69,0.8,0.83,0.93],[0.64,0.77,0.73,0.69,0.39],[0.64,0.83,0.69,0.7,0.53],[0.74,0.84,0.79,0.65,0.57],[0.68,0.86,0.76,0.76,0.58],[0.7,0.82,0.8,0.65,0.6],[0.63,0.78,0.79,0.68,0.59],[0.7,0.84,0.77,0.68,0.58],[0.58,0.8,0.68,0.44,0.57],[0.76,0.84,0.69,0.78,0.55],[0.67,0.87,0.75,0.73,0.6],[0.75,0.77,0.73,0.58,0.75],[0.66,0.77,0.66,0.65,0.65]];

// ---- Log max tortuosity
const lmtTicks = ["0","1","2","3"];
const lmtRange = [-0.115, 3.555];
const lmtPts = [
[[0.6,0.5,0.42,0.36,0.3,0.25,0.2],[1.75,1.35,1.25,1.05,0.8,0.6,0.45,0.3,0.2],[1.9,1.0,0.7,0.5,0.3,0.15],[0.8,0.5,0.3,0.15],[0.5,0.3,0.15,0.05]],
[[0.28],[0.45,0.4],[0.45,0.3],[0.3],[0.13]],
[[0.38],[0.5,0.4],[0.4,0.3],[1.47,0.6],[0.3,0.2]],
[[0.4,0.3],[0.7,0.5],[0.5,0.35],[0.35,0.2],[0.2,0.1]],
[[0.45,0.35,0.25],[0.55,0.4],[0.4,0.25],[0.25,0.15],[0.15,0.05]],
[[0.65,0.5,0.4,0.3,0.25,0.2,0.1],[1.15,1.05,0.8,0.6,0.4,0.2],[1.0,0.7,0.45,0.25],[0.6,0.4,0.2],[0.3,0.15]],
[[0.45,0.3,0.2],[1.1,0.95,0.7],[0.5,0.3],[0.35,0.2],[0.2,0.1]],
[[0.8,0.6,0.45,0.35,0.25,0.15],[1.1,0.85,0.6,0.4,0.2],[0.7,0.45,0.25],[0.45,0.25,0.1],[0.25,0.1]],
[[0.45,0.3,0.2],[0.65,0.45,0.3],[0.45,0.3,0.2],[0.3,0.2],[0.2,0.1]],
[[0.4,0.3],[0.85,0.6,0.4],[0.5,0.3],[0.35,0.2],[0.2,0.05]],
[[0.35,0.28,0.2],[0.85,0.6,0.45],[0.55,0.3],[0.3,0.15],[0.2,0.1]],
[[0.5,0.35,0.25],[1.3,1.1,0.8],[0.55,0.35],[0.4,0.2],[0.25,0.1]],
[[0.55,0.45,0.35,0.25,0.2],[3.37,1.3,1.1,0.8,0.5],[1.47,0.9,0.6,0.35],[0.6,0.4,0.2],[0.4,0.2]],
[[0.3],[0.65,0.5],[0.5,0.35],[0.35,0.2],[0.2,0.1]]];
const lmtMeans = [[0.35,0.55,0.3,0.15,0.25],[0.28,0.45,0.45,0.3,0.13],[0.38,0.48,0.32,0.85,0.3],[0.33,0.35,0.25,0.2,0.1],[0.3,0.3,0.25,0.15,0.1],[0.3,0.55,0.3,0.2,0.1],[0.3,0.9,0.3,0.2,0.15],[0.25,0.55,0.3,0.2,0.1],[0.25,0.6,0.3,0.25,0.15],[0.22,0.45,0.25,0.15,0.1],[0.22,0.58,0.35,0.2,0.15],[0.32,0.6,0.3,0.25,0.15],[0.3,0.65,0.3,0.25,0.15],[0.25,0.6,0.4,0.25,0.08]];

// ---- Max branch angle
const mbaTicks = ["100","150"];
const mbaRange = [63.3, 179.8];
const mbaPts = [
[[145,140,135,130,125,120,115,110,105,92],[175,165,155,145,135,125,115,105,96],[160,150,140,130,120,110],[165,150,135,120,105],[170,150,130,110,85,75]],
[[110],[148],[110,108],[80],[111]],
[[139,126],[158,150],[152,145],[155,140],[150,130]],
[[145,125,105],[150,138],[138,120],[130,108],[125,100]],
[[143,125,110],[160,140],[140,120],[130,100],[125,95]],
[[160,150,140,130,120,110,100,90,68],[165,150,135,120,105,90],[155,140,125,110,95],[150,135,120,100],[140,120,100,85]],
[[128,115,108],[150,135],[140,120],[135,115],[125,100]],
[[140,130,115,105,72],[160,145,130],[150,130,115],[140,120,100],[130,110]],
[[137,120,104],[155,140,120],[140,125,105],[135,115],[120,100]],
[[145,135,120,105],[150,135,120],[140,125,110],[130,115],[120,105]],
[[142,120,100,85],[160,140,120],[150,130,110],[140,120,100],[125,100]],
[[150,140,130,120,110],[165,150,135],[155,140,120],[145,125,105],[130,110]],
[[171,150,140,130,120,110],[165,155,145,130,115,100],[160,145,130,115],[155,140,125],[140,120,100]],
[[143,130],[165,140],[145,125],[135,115],[130,108]]];
const mbaMeans = [[126,132,124,115,118],[110,148,109,80,111],[132,152,152,153,140],[125,127,126,115,138],[125,143,118,120,113],[123,158,122,110,125],[116,138,130,137,120],[115,133,137,129,124],[104,140,121,114,102],[116,142,120,110,102],[115,150,130,118,100],[123,150,138,128,105],[127,125,145,133,130],[120,133,139,124,124]];

// ---- Min branch angle
const mnbaTicks = ["0","20","40"];
const mnbaRange = [-1.9, 56.5];
const mnbaPts = [
[[31,29,26,24,22,19,16,14,11,8,5],[15,12,10,8,6,4,2,0.5],[12,9,6,4,2],[14,10,7,4,2],[48,40,35,30,25,20,15]],
[[18],[7,6],[7],[3],[31]],
[[20,6],[10,7],[7,5],[5,3],[38,33,29]],
[[21,19,12,10],[8,5],[6,3],[4,1],[45,37,25]],
[[28,26,15,10],[12,8],[9,4],[7,1],[38,30,24]],
[[27,24,18,13,9,5,2],[15,10,6,3,0.5],[12,8,4,1],[10,6,3],[54,50,45,38,30,25]],
[[8,6],[10,7],[8,4],[7,4],[31,28,25]],
[[22,19,15,12,8,4],[12,8,4,1],[10,6,2],[9,5,2],[36,30,25]],
[[30,28,22,10],[12,8,4,2],[10,6,3],[9,5],[38,32,26]],
[[22,18,14,10,3],[12,8,3],[10,6,2],[9,5],[41,36,33]],
[[17,6,2],[10,6,3],[8,4],[10,6],[43,35]],
[[23,21,17,12,6,3],[10,6,3],[9,5],[12,8],[42,30,25]],
[[14,12,10,8,5,3,1.5],[12,8,5,2],[10,6,3],[8,5],[40,35,28]],
[[28,18],[10,7,4],[8,5],[12,8],[45,40,35]]];
const mnbaMeans = [[15,4,6.5,5.5,31],[18,6.5,7,3,31],[13,3.5,5,5,33.6],[12.5,5,3.5,8,24.8],[15,2,5,8,30.8],[13,4,6.5,7,31.9],[7.5,4.5,8,7.5,30.1],[14,6,3.5,10,30.1],[9,5,5,6,33.2],[14,6,6,8,36.5],[7,3.5,5.5,8,35.3],[19,5,8,8,30.1],[11,3,5,6,28.5],[22.5,6,6,10,40.1]];

// ---- Mean branch angle
const mnbTicks = ["40","60","80"];
const mnbRange = [28.2, 92.4];
const mnbPts = [
[[64,62,60,58,55,53],[50,47,44,41,38,36],[60,55,50,45,40],[65,60,55,50,45],[78,72,65,58,50,45,39]],
[[57.5],[43.5],[45.5],[36],[66]],
[[73,66,64],[60,55,50],[55,50,45],[58,50],[80,70]],
[[70,65,62],[55,48,44],[52,46],[55,48],[80,72]],
[[63,56,54],[50,44,38],[48,42],[52,45],[62,56]],
[[64,60,56,52,48,44,40,36],[55,48,42,36],[52,46,40],[56,50,44],[90,80,72,62,55]],
[[56,53],[50,45],[52,48],[58,52],[68,62]],
[[63,58,52,45,40],[60,52,44,38],[55,48,42],[60,52],[84,76,65]],
[[66,58,50,44],[58,50,42],[56,50],[60,52],[87,78]],
[[55,48,44],[50,42,35,31],[48,42],[52,45],[70,62]],
[[60,56],[60,50,44],[55,48],[58,52],[79,66]],
[[67,64,60,56,52,48],[58,50,44],[55,48],[62,55],[70,65]],
[[67,63,58,55,50,45,42],[58,50,44,40],[55,46],[58,50],[85,80,70]],
[[62,58],[61,53,45],[55,48],[50,45],[84,70]]];
const mnbMeans = [[60,45.5,49.5,48.5,69],[57.5,43.5,45.5,36,66],[68,50.5,54,52.5,81],[62,47.5,50.5,50.5,77.5],[56.5,39,44,47,68],[54,43,45,49,74],[55,48,50,55,76],[55,45,48,55,68],[58,51,54,54,79],[52,40,45,45,65.5],[57,44,52,53,67],[60,48,52,62,63],[55,42,44,50,75.5],[60,48,50,46,74]];

// ---- Max degree
const mxdTicks = ["10","20"];
const mxdRange = [1.0, 23.0];
const mxdPts = [
[[5,4,3],[12,11,10,9,8,7,6,5,4,3],[8,7,6,5,4,3],[7,6,5,4],[4,3,2]],
[[3],[7],[5],[4],[2]],
[[3],[9,7,5],[7,5],[5,4],[4,3]],
[[4,3,2],[15,13,11,8,6],[8,6,4],[6,4],[4,3]],
[[3],[11,9,7,5],[6,4],[5,4],[4,3]],
[[6,4,3,2],[13,12,10,8,6,4],[8,6,4],[6,4],[4,3,2]],
[[4,3],[8,6,4],[7,5],[5,4],[5,4]],
[[6,4,3],[11,10,8,6,4],[8,6,4],[6,4],[3,2]],
[[3],[12,9,7,5],[7,5],[5,3],[3,2]],
[[3,2],[22,19,13,9,7],[9,7,5],[6,4],[4,3]],
[[3],[10,7,5],[7,5],[5,4],[3,2]],
[[5,4,3],[12,9,7,5],[8,6,4],[6,5],[5,4]],
[[5,4,3],[10,8,6,4],[7,5,4],[5,4],[4,3]],
[[4],[8,6,4],[7,6],[6,5],[3,2]]];
const mxdMeans = [[3,7,5,5,3],[3,7,5,4,2],[3,7.5,5.5,4,4],[3,11,6,4,3],[3,9,4,4,3],[3,8,6,5,2],[3.5,5,7,4,4.5],[3,8,5,4,2],[3,6,5,3,2],[3,13,9,4,3],[3,7,5,4,2],[3,9,6,5,4],[3,7,5,4,3],[3,7.5,6,6,2.5]];

// ---- Median terminal segment pl
const mtsTicks = ["0.25","0.50","0.75","1.00"];
const mtsRange = [0.166, 1.068];
const mtsPts = [
[[0.57,0.52,0.48,0.44,0.4,0.36,0.32,0.28],[0.92,0.82,0.68,0.6,0.5,0.42,0.35],[0.76,0.6,0.5,0.4,0.32],[0.78,0.63,0.5,0.4,0.3],[0.67,0.55,0.45,0.35,0.3]],
[[0.35],[0.47],[0.39],[0.36],[0.56]],
[[0.52,0.35],[0.55,0.5],[0.45,0.4],[0.4,0.37],[0.89,0.6]],
[[0.48,0.43,0.38],[0.61,0.55],[0.45,0.32],[0.4,0.3],[0.6,0.45]],
[[0.47,0.4,0.3,0.29],[0.65,0.57],[0.45,0.4],[0.45,0.3],[0.7,0.5]],
[[0.63,0.6,0.55,0.5,0.45,0.4,0.35,0.3,0.26],[1.0,0.85,0.82,0.75,0.65,0.55,0.45,0.35],[0.73,0.6,0.5,0.4,0.3,0.23],[0.8,0.7,0.55,0.4,0.28],[0.88,0.72,0.6,0.45,0.3]],
[[0.39,0.3],[0.63,0.48],[0.55,0.42],[0.5,0.3],[0.6,0.3]],
[[0.73,0.6,0.55,0.5,0.45,0.4,0.35,0.29],[0.77,0.6,0.5,0.4],[0.55,0.4,0.3],[0.5,0.35,0.23],[0.74,0.6,0.45]],
[[0.4,0.3,0.29],[0.74,0.55,0.45],[0.55,0.45,0.35],[0.5,0.4],[0.6,0.5,0.3]],
[[0.6,0.55,0.5,0.37],[0.5,0.4],[0.4,0.3],[0.3,0.27],[0.89,0.65]],
[[0.48,0.42,0.34,0.3,0.27],[0.67,0.6,0.5],[0.5,0.4,0.26],[0.45,0.3],[0.72,0.6,0.3]],
[[0.44,0.41,0.38,0.35,0.32,0.3],[0.63,0.55,0.45],[0.45,0.35],[0.45,0.23],[0.6,0.3]],
[[0.75,0.72,0.57,0.52,0.4,0.32,0.28,0.25],[1.03,0.82,0.75,0.65,0.55,0.45,0.38],[0.74,0.6,0.5,0.35],[0.83,0.6,0.45,0.33],[0.97,0.6,0.45,0.3]],
[[0.53,0.27],[0.47,0.43,0.35],[0.4,0.33],[0.42,0.38],[0.6,0.4]]];
const mtsMeans = [[0.36,0.56,0.43,0.45,0.56],[0.35,0.47,0.39,0.36,0.56],[0.43,0.54,0.43,0.375,0.74],[0.4,0.5,0.41,0.33,0.56],[0.4,0.57,0.43,0.4,0.59],[0.45,0.55,0.43,0.41,0.59],[0.34,0.53,0.52,0.42,0.44],[0.44,0.55,0.39,0.38,0.59],[0.3,0.54,0.47,0.4,0.4],[0.53,0.47,0.36,0.29,0.59],[0.36,0.56,0.45,0.4,0.37],[0.37,0.54,0.37,0.36,0.57],[0.52,0.7,0.63,0.53,0.59],[0.4,0.45,0.34,0.4,0.5]];

type Spec = { title: string; pts: number[][][]; means: (number | null)[][]; ticks: string[]; range: number[] };

const panels: Spec[] = [
  { title: "Branch points", pts: bpPts, means: bpMeans, ticks: bpTicks, range: bpRange },
  { title: "Width", pts: wdPts, means: wdMeans, ticks: wdTicks, range: wdRange },
  { title: "Depth", pts: dpPts, means: dpMeans, ticks: dpTicks, range: dpRange },
  { title: "Height", pts: htPts, means: htMeans, ticks: htTicks, range: htRange },
  { title: "Median path angle", pts: mpaPts, means: mpaMeans, ticks: mpaTicks, range: mpaRange },
  { title: "Stems", pts: stPts, means: stMeans, ticks: stTicks, range: stRange },
  { title: "Total length", pts: tlPts, means: tlMeans, ticks: tlTicks, range: tlRange },
  { title: "Max path dist to soma", pts: mpdPts, means: mpdMeans, ticks: mpdTicks, range: mpdRange },
  { title: "Max branch order", pts: mboPts, means: mboMeans, ticks: mboTicks, range: mboRange },
  { title: "Max path angle", pts: mxpaPts, means: mxpaMeans, ticks: mxpaTicks, range: mxpaRange },
  { title: "Min path angle", pts: mnpaPts, means: mnpaMeans, ticks: mnpaTicks, range: mnpaRange },
  { title: "Mean soma exit angle", pts: msePts, means: mseMeans, ticks: mseTicks, range: mseRange },
  { title: "Max segment path length", pts: mspPts, means: mspMeans, ticks: mspTicks, range: mspRange },
  { title: "Tips", pts: tpPts, means: tpMeans, ticks: tpTicks, range: tpRange },
  { title: "Median intermediate segment pl", pts: misPts, means: misMeans, ticks: misTicks, range: misRange },
  { title: "Tree asymmetry", pts: taPts, means: taMeans, ticks: taTicks, range: taRange },
  { title: "Log max tortuosity", pts: lmtPts, means: lmtMeans, ticks: lmtTicks, range: lmtRange },
  { title: "Max branch angle", pts: mbaPts, means: mbaMeans, ticks: mbaTicks, range: mbaRange },
  { title: "Min branch angle", pts: mnbaPts, means: mnbaMeans, ticks: mnbaTicks, range: mnbaRange },
  { title: "Mean branch angle", pts: mnbPts, means: mnbMeans, ticks: mnbTicks, range: mnbRange },
  { title: "Max degree", pts: mxdPts, means: mxdMeans, ticks: mxdTicks, range: mxdRange },
  { title: "Median terminal segment pl", pts: mtsPts, means: mtsMeans, ticks: mtsTicks, range: mtsRange },
];

// layout (pixels)
const COL_LEFT = [53.4, 472.7, 892.3];
const COL_W = [382, 381.5, 378.6];
const ROW_TOP0 = 33.5;
const ROW_STEP = 202.1;
const AX_H = 143.5;
const FONT = '"DejaVu Sans", "Liberation Sans", sans-serif';
const JIT = [0, 0.13, -0.13, 0.07, -0.07, 0.18, -0.18, 0.035, -0.035, 0.1, -0.1, 0.15, -0.15];
const NSLOT = 70;

function Panel({ idx, spec }: { idx: number; spec: Spec }) {
  const ref = useRef<HTMLCanvasElement>(null);
  const r = Math.floor(idx / 3), c = idx % 3;
  const axLeft = COL_LEFT[c];
  const axTop = ROW_TOP0 + ROW_STEP * r;
  const cvLeft = Math.floor(axLeft - 53);
  const cvTop = Math.floor(axTop - 33.5);
  const padL = axLeft - cvLeft;
  const padT = axTop - cvTop;
  const w = Math.ceil(padL + COL_W[c] + 5);
  const padR = w - padL - COL_W[c];
  const h = Math.ceil(padT + AX_H + 18);
  const padB = h - padT - AX_H;

  useEffect(() => {
    const canvas = ref.current;
    if (!canvas) return;
    const realMeans: { x: number; y: number }[] = [];
    const modelMeans: { x: number; y: number }[] = [];
    spec.means.forEach((m, g) => m.forEach((v, s) => {
      if (v === null || v === undefined) return;
      (s === 0 ? realMeans : modelMeans).push({ x: g * 5 + s, y: v });
    }));
    const pts: { x: number; y: number }[] = [];
    const cols: string[] = [];
    spec.pts.forEach((grp, g) => grp.forEach((strip, s) => strip.forEach((v, i) => {
      pts.push({ x: g * 5 + s + JIT[i % JIT.length], y: v });
      cols.push(s === 0 ? typeColors[g] : modelColors[s - 1]);
    })));
    const tickVals = spec.ticks.map((t) => parseFloat(t));
    const titlePlugin = {
      id: "panelTitle",
      afterDraw(chart: any) {
        const { ctx, chartArea } = chart;
        ctx.save();
        ctx.font = `17.6px ${FONT}`;
        ctx.fillStyle = "#000";
        ctx.textAlign = "center";
        ctx.textBaseline = "alphabetic";
        ctx.fillText(spec.title, (chartArea.left + chartArea.right) / 2, chartArea.top - 8.8);
        ctx.restore();
      },
    };
    const chart = new Chart(canvas, {
      type: "scatter",
      data: {
        datasets: [
          { data: realMeans, pointStyle: "line", pointRadius: 3.6, pointBorderWidth: 3, pointBorderColor: "#000", pointBackgroundColor: "#000", borderColor: "#000", order: 0, clip: false } as any,
          { data: modelMeans, pointStyle: "line", pointRadius: 3.6, pointBorderWidth: 3, pointBorderColor: "#ffa500", pointBackgroundColor: "#ffa500", borderColor: "#ffa500", order: 0, clip: false } as any,
          { data: pts, pointRadius: 3.4, pointBorderWidth: 0, pointBackgroundColor: cols, pointBorderColor: cols, order: 1, clip: false } as any,
        ],
      },
      options: {
        animation: false,
        responsive: false,
        devicePixelRatio: 1,
        events: [],
        layout: { padding: { left: 0, top: padT, right: padR, bottom: padB } },
        plugins: { legend: { display: false }, tooltip: { enabled: false }, title: { display: false } },
        scales: {
          x: {
            type: "linear", min: -0.05 * (NSLOT - 1), max: (NSLOT - 1) * 1.05,
            ticks: { display: false }, grid: { display: false },
            border: { display: true, color: "#000", width: 1.1 },
            afterFit: (s: any) => { s.height = 0; },
          },
          y: {
            type: "linear", min: spec.range[0], max: spec.range[1],
            afterBuildTicks: (s: any) => { s.ticks = tickVals.map((v) => ({ value: v })); },
            ticks: {
              autoSkip: false, padding: 5, color: "#000",
              font: { family: FONT, size: 14.7 },
              callback: (_v: any, i: number) => spec.ticks[i],
            },
            grid: { display: true, drawOnChartArea: false, drawTicks: true, tickLength: 5, tickWidth: 1.1, tickColor: "#000" },
            border: { display: true, color: "#000", width: 1.1 },
            afterFit: (s: any) => { s.width = padL; },
          },
        },
      } as any,
      plugins: [titlePlugin],
    });
    return () => chart.destroy();
  }, []);

  return (
    <canvas
      ref={ref}
      width={w}
      height={h}
      style={{ position: "absolute", left: cvLeft, top: cvTop, width: w, height: h }}
    />
  );
}

const legendCols = [
  { mx: 545, tx: 573 },
  { mx: 702, tx: 729 },
  { mx: 855, tx: 883 },
  { mx: 1000, tx: 1028 },
  { mx: 1123, tx: 1151 },
];
const legendRows = [1440, 1461.5, 1483, 1505];

function Legend() {
  const items: { label: React.ReactNode; color: string }[] = [];
  cellTypes.forEach((t, i) => items.push({ label: t, color: typeColors[i] }));
  modelNames.forEach((m, i) => {
    const label = m.startsWith("κ") ? (<span><i>κ</i>{m.slice(1)}</span>) : m;
    items.push({ label, color: modelColors[i] });
  });
  return (
    <>
      {items.map((it, k) => {
        const col = Math.floor(k / 4), row = k % 4;
        // last two columns: sONα, 8n/9n, κ=100 | κ=300, κ=500, TREES
        let cc = col, rr = row;
        if (k >= 12) {
          const j = k - 12;
          cc = 3 + Math.floor(j / 3);
          rr = j % 3;
        }
        const y = legendRows[rr];
        const lc = legendCols[cc];
        return (
          <React.Fragment key={k}>
            <div style={{ position: "absolute", left: lc.mx - 3, top: y - 3, width: 6, height: 6, borderRadius: 3, background: it.color }} />
            <div style={{ position: "absolute", left: lc.tx, top: y - 10, height: 20, lineHeight: "20px", fontSize: 14.7, fontFamily: FONT, color: "#000", whiteSpace: "nowrap" }}>{it.label}</div>
          </React.Fragment>
        );
      })}
    </>
  );
}

export default function App() {
  return (
    <div style={{ position: "absolute", left: 0, top: 0, width: 1275, height: 1592, background: "#fff", overflow: "hidden" }}>
      {panels.map((p, i) => (
        <Panel key={i} idx={i} spec={p} />
      ))}
      <Legend />
    </div>
  );
}
